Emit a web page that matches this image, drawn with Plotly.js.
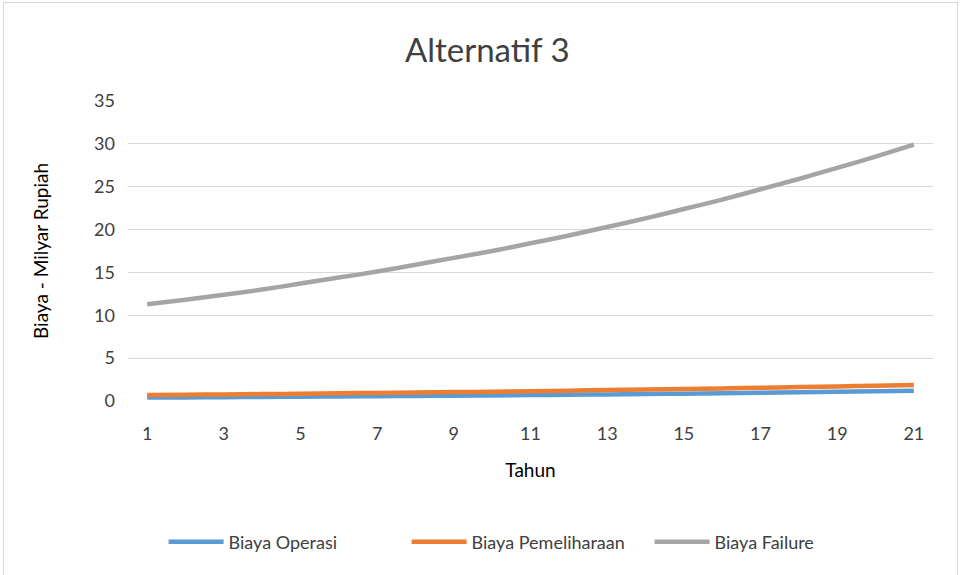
<!DOCTYPE html>
<html>
<head>
<meta charset="utf-8">
<script src="https://cdn.plot.ly/plotly-3.0.1.min.js"></script>
<style>
  html, body { margin: 0; padding: 0; background: #fff; }
  #frame { position: absolute; left: 3px; top: 2px; width: 955px; height: 580px;
           border: 1px solid #d9d9d9; box-sizing: border-box; }
  #chart { position: absolute; left: 0; top: 0; width: 963px; height: 575px; }
</style>
</head>
<body>
<div id="frame"></div>
<div id="chart"></div>
<script>
const tahun = [1,2,3,4,5,6,7,8,9,10,11,12,13,14,15,16,17,18,19,20,21];
const biayaOperasi = [0.40,0.42,0.45,0.47,0.50,0.53,0.56,0.59,0.62,0.65,0.69,0.73,0.77,0.81,0.86,0.91,0.96,1.01,1.07,1.13,1.20];
const biayaPemeliharaan = [0.70,0.74,0.77,0.81,0.85,0.90,0.94,0.99,1.04,1.09,1.15,1.21,1.27,1.33,1.40,1.47,1.54,1.62,1.70,1.79,1.88];
const biayaFailure = [11.3,11.8,12.4,13.0,13.7,14.4,15.1,15.9,16.7,17.5,18.4,19.3,20.3,21.3,22.4,23.5,24.7,25.9,27.2,28.5,29.9];
const seriesNames = ["Biaya Operasi","Biaya Pemeliharaan","Biaya Failure"];
const xTicks = [1,3,5,7,9,11,13,15,17,19,21];
const yTicks = [0,5,10,15,20,25,30,35];

const font = "Lato, Open Sans, sans-serif";
const colors = ["#5B9BD5","#ED7D31","#A5A5A5"];
const ys = [biayaOperasi, biayaPemeliharaan, biayaFailure];

const traces = ys.map((y, i) => ({
  x: tahun, y: y, type: "scatter", mode: "lines", name: seriesNames[i],
  line: {color: colors[i], width: 4.5, shape: "spline", smoothing: 0.6}
}));

const layout = {
  width: 963, height: 575,
  paper_bgcolor: "rgba(0,0,0,0)", plot_bgcolor: "rgba(0,0,0,0)",
  margin: {l: 128, r: 30, t: 101, b: 174},
  font: {family: font, color: "#404040", size: 17},
  title: {text: "Alternatif 3", x: 0.506, xanchor: "center", y: 0.913, yanchor: "middle",
          font: {family: font, size: 33, color: "#404040"}},
  xaxis: {
    range: [0.5, 21.5], tickmode: "array", tickvals: xTicks, ticktext: xTicks.map(String),
    showgrid: false, zeroline: false, showline: false, ticks: "",
    tickfont: {size: 18, color: "#404040"}, ticklabelstandoff: 20,
    title: {text: "Tahun", font: {size: 19, color: "#000"}, standoff: 20}
  },
  yaxis: {
    range: [0, 35], tickmode: "array", tickvals: yTicks, ticktext: yTicks.map(String),
    showgrid: true, gridcolor: "#d9d9d9", gridwidth: 1, zeroline: false, showline: false, ticks: "",
    tickfont: {size: 18, color: "#404040"}, ticklabelstandoff: 12,
    title: {text: "Biaya - Milyar Rupiah", font: {size: 19, color: "#000"}, standoff: 40}
  },
  legend: {orientation: "h", x: 0.497, xanchor: "center", y: -0.47, yanchor: "middle",
           font: {size: 18, color: "#404040"}, traceorder: "normal", itemwidth: 55,
           entrywidth: 173},
  showlegend: true
};

Plotly.newPlot("chart", traces, layout, {displayModeBar: false, staticPlot: true});
</script>
</body>
</html>
